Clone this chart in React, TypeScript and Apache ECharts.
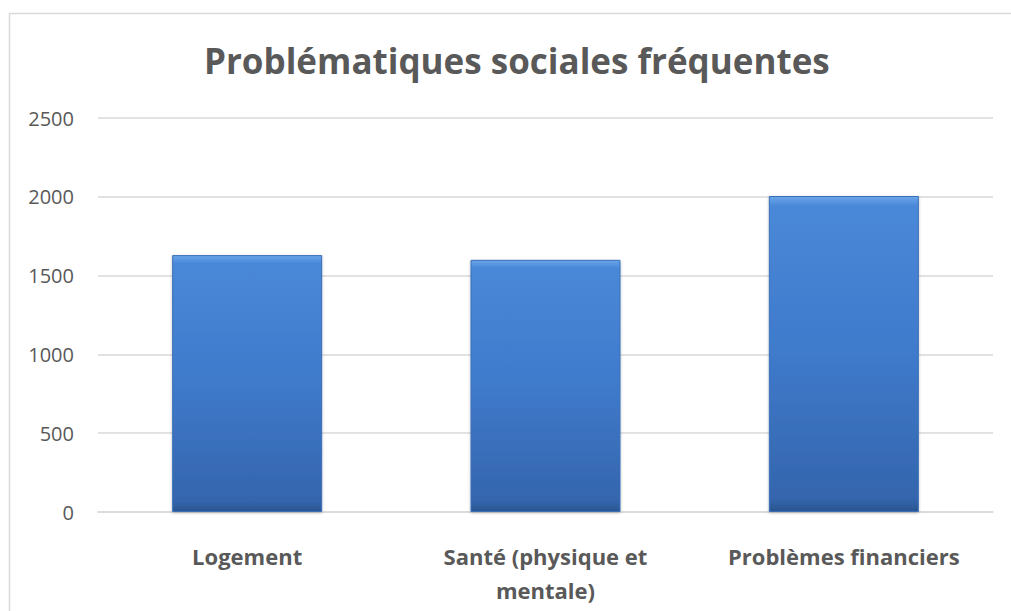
import React, { useEffect, useRef } from "react";
import * as echarts from "echarts";

const categories = ["Logement", "Santé (physique et\nmentale)", "Problèmes financiers"];
const values = [1630, 1600, 2005];
const yTicks = [0, 500, 1000, 1500, 2000, 2500];
const titleText = "Problématiques sociales fréquentes";

export default function App() {
  const ref = useRef<HTMLDivElement>(null);
  useEffect(() => {
    if (!ref.current) return;
    const chart = echarts.init(ref.current, null, { renderer: "svg" });
    const font = "Open Sans, Lato, sans-serif";
    chart.setOption({
      animation: false,
      backgroundColor: "#ffffff",
      title: {
        text: titleText,
        left: 199,
        top: 38,
        textStyle: { fontFamily: font, fontSize: 35, fontWeight: "bold", color: "#595959" },
      },
      graphic: [
        {
          type: "rect",
          shape: { x: 9.5, y: 13.5, width: 1010, height: 620 },
          style: { fill: "none", stroke: "#d9d9d9", lineWidth: 1.5 },
          silent: true,
          z: -1,
        },
      ],
      grid: { left: 98, right: 18, top: 118, bottom: 99, containLabel: false },
      xAxis: {
        type: "category",
        data: categories,
        axisLine: { show: true, lineStyle: { color: "#d9d9d9", width: 1.5 } },
        axisTick: { show: false },
        axisLabel: {
          fontFamily: font,
          fontSize: 22,
          fontWeight: "bold",
          color: "#595959",
          margin: 27,
          lineHeight: 34,
          interval: 0,
          verticalAlign: "top",
        },
      },
      yAxis: {
        type: "value",
        min: yTicks[0],
        max: yTicks[yTicks.length - 1],
        interval: 500,
        axisLine: { show: false },
        axisTick: { show: false },
        splitLine: { lineStyle: { color: "#d9d9d9", width: 1.5 } },
        axisLabel: {
          fontFamily: font,
          fontSize: 20,
          color: "#595959",
          margin: 24,
          align: "right",
          formatter: (v: number) => String(v),
        },
      },
      series: [
        {
          type: "bar",
          data: values,
          barWidth: 150,
          itemStyle: {
            color: new echarts.graphic.LinearGradient(0, 0, 0, 1, [
              { offset: 0, color: "#6aa6ea" },
              { offset: 0.03, color: "#4a88d8" },
              { offset: 0.5, color: "#3f7acb" },
              { offset: 0.96, color: "#3465ad" },
              { offset: 1, color: "#2a5590" },
            ]),
            borderColor: "#3a6fb8",
            borderWidth: 1,
            shadowColor: "rgba(0,0,0,0.25)",
            shadowBlur: 3,
            shadowOffsetY: 1,
          },
        },
      ],
    });
    return () => chart.dispose();
  }, []);
  return (
    <div
      ref={ref}
      style={{ position: "fixed", left: 0, top: 0, width: 1011, height: 611, background: "#fff" }}
    />
  );
}
